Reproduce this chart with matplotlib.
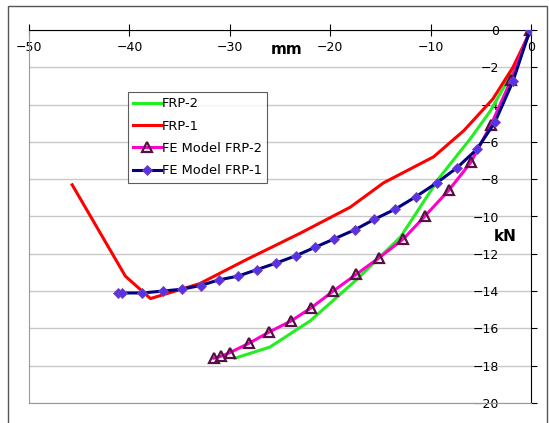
import numpy as np
import matplotlib
matplotlib.use("Agg")
import matplotlib.pyplot as plt
from matplotlib.patches import Rectangle

# Load data
frp2_x = [-29.5, -26.0, -22.0, -17.4, -13.0, -9.1, -6.0, -4.0, -2.0, 0.0]
frp2_y = [-17.6, -17.0, -15.6, -13.4, -11.1, -7.9, -5.8, -4.3, -2.4, 0.0]

frp1_x = [-45.7, -40.4, -37.9, -33.0, -28.3, -23.0, -18.0, -14.7, -9.7, -6.7, -3.8, -1.8, 0.0]
frp1_y = [-8.3, -13.2, -14.4, -13.6, -12.3, -10.9, -9.5, -8.2, -6.8, -5.4, -3.7, -2.0, 0.0]

fe2_x = [-31.6, -30.9, -30.0, -28.1, -26.1, -23.9, -21.9, -19.7, -17.4, -15.1,
         -12.7, -10.6, -8.2, -6.0, -4.0, -2.0, -0.1]
fe2_y = [-17.6, -17.5, -17.3, -16.8, -16.2, -15.6, -14.9, -14.0, -13.1, -12.2,
         -11.2, -10.0, -8.6, -7.1, -5.1, -2.7, 0.0]

fe1_x = [-41.1, -40.7, -38.7, -36.7, -34.8, -32.9, -31.1, -29.2, -27.3, -25.4, -23.4, -21.5,
         -19.6, -17.5, -15.6, -13.5, -11.5, -9.4, -7.4, -5.4, -3.6, -1.8, -0.1]
fe1_y = [-14.1, -14.1, -14.1, -14.0, -13.9, -13.7, -13.4, -13.2, -12.85, -12.5, -12.1, -11.65,
         -11.2, -10.7, -10.15, -9.6, -8.95, -8.2, -7.4, -6.4, -4.95, -2.75, 0.0]

x_ticks = [-50, -40, -30, -20, -10, 0]
y_ticks = list(range(0, -21, -2))
#
fig = plt.figure(figsize=(5.49, 4.23), dpi=100)
fig.patches.append(Rectangle((8 / 549, -0.1), 539 / 549, 1 - 6 / 423 + 0.1,
                             transform=fig.transFigure, fill=False,
                             edgecolor='#555555', lw=1.0))
ax = fig.add_axes([29 / 549, 20 / 423, 502 / 549, 373 / 423])
#
ax.plot(frp2_x, frp2_y, color='#22ee22', lw=2.2, label='FRP-2', zorder=3)
ax.plot(frp1_x, frp1_y, color='#ff0000', lw=2.2, label='FRP-1', zorder=3)
ax.plot(fe2_x, fe2_y, color='#ff00cc', lw=2.2, marker='^', ms=7.5,
        mfc='none', mec='#551144', mew=1.6, label='FE Model FRP-2', zorder=4)
ax.plot(fe1_x, fe1_y, color='#000080', lw=2.2, marker='D', ms=5,
        mfc='#5533ee', mec='#7744aa', mew=0.6, label='FE Model FRP-1', zorder=5)
#
ax.set_xlim(-50, 0)
ax.set_ylim(-20, 0)
ax.set_xticks(x_ticks)
ax.set_yticks(y_ticks)
ax.xaxis.tick_top()
ax.yaxis.tick_right()
ax.tick_params(axis='x', direction='inout', length=8, labelsize=9,
               pad=-21, colors='black')
ax.tick_params(axis='y', direction='out', length=4, labelsize=9, pad=-27)
for lab in ax.get_yticklabels():
    lab.set_horizontalalignment('right')
ax.xaxis.set_tick_params(labeltop=True, labelbottom=False)
ax.yaxis.set_tick_params(labelright=True, labelleft=False)
ax.grid(axis='y', color='#c8c8c8', lw=1.0, zorder=0)
ax.set_axisbelow(True)
ax.spines['top'].set_color('black')
ax.spines['right'].set_color('black')
ax.spines['left'].set_color('#999999')
ax.spines['bottom'].set_color('#999999')
#
ax.text(-24.3, -1.07, 'mm', fontsize=11, fontweight='bold', ha='center', va='center')
ax.text(-2.6, -11.05, 'kN', fontsize=11, fontweight='bold', ha='center', va='center')
#
leg = ax.legend(loc='upper left', bbox_to_anchor=(0.197, 0.834), fontsize=9.4,
                frameon=True, fancybox=False, edgecolor='#333333',
                handlelength=2.1, handletextpad=0.1, borderpad=0.4,
                labelspacing=0.72, borderaxespad=0)
leg.get_frame().set_linewidth(0.8)
#
fig.savefig('out.png', dpi=100)
